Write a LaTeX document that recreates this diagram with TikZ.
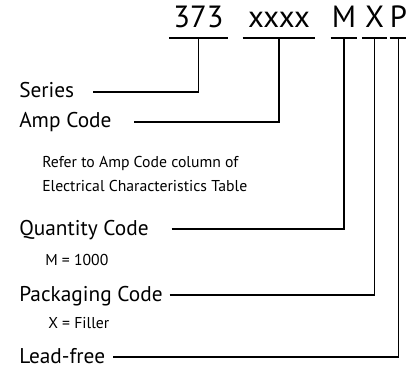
\documentclass[tikz,border=0pt]{standalone}
\usepackage{fontspec}
\setmainfont{PT Sans}

\begin{document}
\begin{tikzpicture} [
    x=0.75pt, y=-0.75pt,
    field/.style    = { rectangle, draw=none, text centered, anchor=south,
                        font=\fontsize{23}{27}\selectfont,
                        text depth=0pt, inner xsep=0pt, inner ysep=7.5pt },
    desc/.style     = { rectangle, draw=none, anchor=base west, inner sep=0pt,
                        font=\fontsize{16}{19}\selectfont,
                        text height=9pt, text depth=0pt },
    note/.style     = { rectangle, draw=none, anchor=base west, inner sep=0pt,
                        font=\fontsize{11.8}{14}\selectfont },
    line/.style     = { draw, line width=0.9pt },
  ]
  \useasboundingbox (0,0) rectangle (406,370);

  % part number fields
  \node[field, minimum width=44pt]   (series-f) at (198.5,38) {373};
  \node[field, minimum width=54pt]   (amp-f)    at (279,38)   {xxxx};
  \node[field, minimum width=19.5pt] (qty-f)    at (344,38)   {M};
  \node[field, minimum width=18.5pt] (pack-f)   at (374.5,38) {X};
  \node[field, minimum width=13pt]   (lead-f)   at (398.5,38) {P};

  % underlines
  \foreach \f in {series-f, amp-f, qty-f, pack-f, lead-f}
    \path [line] (\f.south west) -- (\f.south east);

  % descriptions
  \node[desc] (series) at (19,98)  {Series};
  \node[desc] (amp)    at (19,128) {Amp Code};
  \node[note] (amp-n1) at (42,168) {Refer to Amp Code column of};
  \node[note] (amp-n2) at (42,191) {Electrical Characteristics Table};
  \node[desc] (qty)    at (19,235) {Quantity Code};
  \node[note] (qty-n)  at (45,265) {M = 1000};
  \node[desc] (pack)   at (19,301) {Packaging Code};
  \node[note] (pack-n) at (48,328) {X = Filler};
  \node[desc] (lead)   at (19,363) {Lead-free};

  % connect the nodes
  \path [line] ([xshift=14pt]series.east) -| (series-f.south);
  \path [line] ([xshift=17pt]amp.east)    -| (amp-f.south);
  \path [line] ([xshift=17pt]qty.east)    -| (qty-f.south);
  \path [line] ([xshift=5pt]pack.east)    -| (pack-f.south);
  \path [line] ([xshift=6pt]lead.east)    -| (lead-f.south);
\end{tikzpicture}
\end{document}
